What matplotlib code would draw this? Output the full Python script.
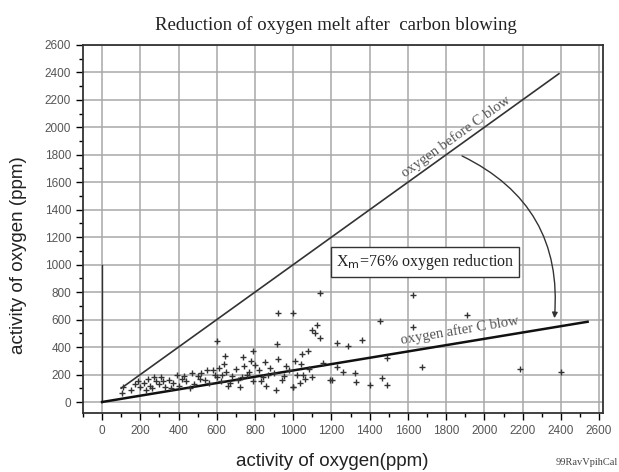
import numpy as np
import matplotlib.pyplot as plt
from matplotlib.patches import FancyArrowPatch
from matplotlib.ticker import MultipleLocator

# measured points: activity of oxygen before (x) / after (y) carbon blowing, ppm
x_before = [104, 110, 150, 170, 190, 200, 220, 240, 250, 260, 280, 300, 310, 330,
            350, 370, 390, 400, 420, 440, 460, 480, 500, 520, 540, 560, 580, 590,
            600, 600, 610, 620, 640, 642, 650, 660, 680, 700, 710, 720, 736, 740,
            760, 780, 789, 790, 800, 820, 840, 850, 860, 880, 900, 910, 914, 919,
            920, 940, 960, 980, 997, 997, 1000, 1010, 1020, 1034, 1040, 1044, 1050,
            1060, 1076, 1080, 1097, 1097, 1112, 1123, 1138, 1138, 1154, 1191, 1201,
            1227, 1227, 1258, 1285, 1321, 1331, 1358, 1400, 1452, 1462, 1488, 1488,
            1624, 1624, 1676, 1911, 2188, 2402,
            230, 270, 320, 360, 430, 470, 510, 550, 630, 670, 730, 770, 830, 870, 950]
o_after = [66, 110, 90, 130, 150, 110, 140, 170, 120, 100, 150, 130, 180, 110,
           160, 140, 200, 120, 170, 150, 100, 130, 190, 210, 160, 140, 230, 200,
           180, 445, 250, 150, 280, 336, 220, 120, 190, 240, 160, 110, 328, 260,
           200, 300, 372, 150, 270, 230, 180, 290, 120, 250, 210, 90, 423, 650,
           310, 160, 260, 230, 650, 110, 110, 300, 200, 139, 280, 350, 197,
           170, 372, 240, 526, 182, 504, 562, 795, 467, 285, 161, 161,
           430, 255, 219, 409, 212, 146, 452, 124, 591, 175, 321, 124,
           781, 547, 255, 635, 241, 219,
           90, 180, 150, 100, 190, 210, 170, 230, 200, 140, 180, 220, 150, 200, 190]

before_line_x = [100, 2390]
after_slope = 0.23
after_line_x = [0, 2540]

fig = plt.figure(figsize=(6.19, 4.72), dpi=100)
ax = fig.add_axes([0.134, 0.125, 0.840, 0.780])

ax.set_xlim(-100, 2620)
ax.set_ylim(-80, 2600)
ax.xaxis.set_major_locator(MultipleLocator(200))
ax.xaxis.set_minor_locator(MultipleLocator(100))
ax.yaxis.set_major_locator(MultipleLocator(200))
ax.yaxis.set_minor_locator(MultipleLocator(100))
ax.grid(True, which='major', color='#a8a8a8', linewidth=1.1)
ax.set_axisbelow(True)
ax.tick_params(which='major', direction='out', length=5, width=1, labelsize=8.5,
               labelcolor='#555555')
ax.tick_params(which='minor', direction='out', length=3, width=1)
for lab in ax.get_xticklabels() + ax.get_yticklabels():
    lab.set_family('Liberation Sans')
for s in ax.spines.values():
    s.set_linewidth(1.3)
    s.set_color('#333333')

# x = 0 marker line
ax.plot([0, 0], [0, 1000], color='#333333', lw=1.0)

ax.plot(before_line_x, before_line_x, color='#333333', lw=1.2)
ax.plot(after_line_x, [after_slope * v for v in after_line_x], color='#111111', lw=1.8)

ax.scatter(x_before, o_after, marker='+', s=14, color='#333333', linewidths=1.0, zorder=3)

ax.text(1850, 1930, 'oxygen before C blow', rotation=35.5, rotation_mode='anchor',
        ha='center', va='center', fontsize=10.5, family='Liberation Serif', color='#555555')
ax.text(1870, 520, 'oxygen after C blow', rotation=9.5, rotation_mode='anchor',
        ha='center', va='center', fontsize=10.5, family='Liberation Serif', color='#555555')

ax.text(1690, 1020, 'X$_{\\mathrm{m}}$=76% oxygen reduction', ha='center', va='center',
        fontsize=11.5, family='Liberation Serif', color='#222222',
        bbox=dict(boxstyle='square,pad=0.3', fc='white', ec='#333333', lw=1.0))

arrow = FancyArrowPatch((1870, 1800), (2365, 590), connectionstyle='arc3,rad=-0.35',
                        arrowstyle='-|>', mutation_scale=8, color='#333333', lw=1.0)
ax.add_patch(arrow)

ax.set_xlabel('activity of oxygen(ppm)', fontsize=13.5, family='Liberation Sans',
              color='#222222')
ax.set_ylabel('activity of oxygen (ppm)', fontsize=13.5, family='Liberation Sans',
              color='#222222')
ax.xaxis.set_label_coords(0.48, -0.108)
ax.yaxis.set_label_coords(-0.108, 0.43)
fig.text(0.543, 0.947, 'Reduction of oxygen melt after  carbon blowing', ha='center',
         va='center', fontsize=13.5, family='Liberation Serif', color='#222222')
fig.text(0.948, 0.02, '99RavVpihCal', ha='center', va='center', fontsize=7.5,
         family='Liberation Serif', color='#444444')

fig.savefig('out.png', dpi=100)
